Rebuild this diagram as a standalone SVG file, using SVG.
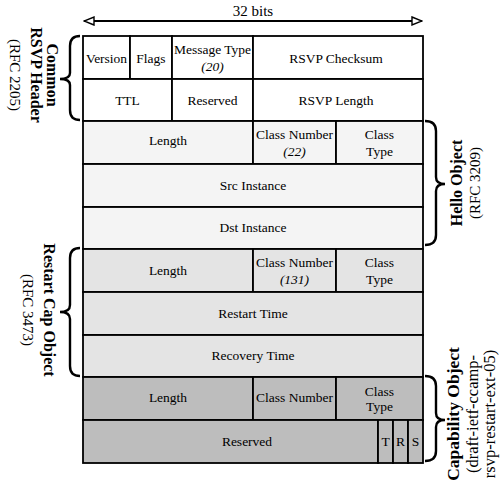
<svg xmlns="http://www.w3.org/2000/svg" width="502" height="485" viewBox="0 0 502 485">
<style>
text{font-family:"Liberation Serif","Times New Roman",serif;font-size:13.5px;fill:#000;text-anchor:middle}
.b{font-weight:bold;font-size:16px}
.r{font-size:15px}
.cb{font-weight:bold;font-size:17.5px}
.cr{font-size:16.5px}
.i{font-style:italic}
.cell{stroke:#000;stroke-width:1.8}
.brace{fill:none;stroke:#000;stroke-width:2.4}
.w{fill:#ffffff}.h{fill:#f4f4f4}.rc{fill:#e4e4e4}.cp{fill:#bdbdbd}
</style>
<defs>
<marker id="arr" viewBox="0 0 12 10" refX="11" refY="5" markerWidth="12" markerHeight="10" markerUnits="userSpaceOnUse" orient="auto-start-reverse">
<path d="M1,1 L11,5 L1,9 Z" fill="#fff" stroke="#000" stroke-width="1.4"/>
</marker>
</defs>

<g id="connectors">
<line x1="84" y1="21" x2="422" y2="21" stroke="#000" stroke-width="2" marker-start="url(#arr)" marker-end="url(#arr)"/>
</g>
<text x="253" y="16" class="r">32 bits</text>

<g id="common-header">
<rect class="cell w" x="83" y="36" width="47" height="43"/>
<rect class="cell w" x="130" y="36" width="42" height="43"/>
<rect class="cell w" x="172" y="36" width="81" height="43"/>
<rect class="cell w" x="253" y="36" width="170" height="43"/>
<rect class="cell w" x="83" y="79" width="89" height="42"/>
<rect class="cell w" x="172" y="79" width="81" height="42"/>
<rect class="cell w" x="253" y="79" width="170" height="42"/>
<text x="106.5" y="63">Version</text>
<text x="151" y="63">Flags</text>
<text x="212.5" y="54">Message Type</text>
<text x="212.5" y="71" class="i">(20)</text>
<text x="336" y="63">RSVP Checksum</text>
<text x="127.5" y="105">TTL</text>
<text x="212.5" y="105">Reserved</text>
<text x="336" y="105">RSVP Length</text>
<path class="brace" d="M80,36 Q70,36 70,46 L70,73 Q70,79 60,79 Q70,79 70,85 L70,110 Q70,120 80,120"/>
<g transform="translate(46.5,75) rotate(90)"><text x="0" y="0" class="b">Common</text></g>
<g transform="translate(31,75) rotate(90)"><text x="0" y="0" class="b">RSVP Header</text></g>
<g transform="translate(10,75) rotate(90)"><text x="0" y="0" class="r">(RFC 2205)</text></g>
</g>

<g id="hello-object">
<rect class="cell h" x="83" y="121" width="170" height="43"/>
<rect class="cell h" x="253" y="121" width="83" height="43"/>
<rect class="cell h" x="336" y="121" width="87" height="43"/>
<rect class="cell h" x="83" y="164" width="340" height="43"/>
<rect class="cell h" x="83" y="207" width="340" height="42"/>
<text x="168" y="145">Length</text>
<text x="294.5" y="139">Class Number</text>
<text x="294.5" y="156" class="i">(22)</text>
<text x="379.5" y="139">Class</text>
<text x="379.5" y="156">Type</text>
<text x="253" y="190">Src Instance</text>
<text x="253" y="232">Dst Instance</text>
<path class="brace" d="M425,121 Q436,121 436,131 L436,177 Q436,184 445,184 Q436,184 436,191 L436,235 Q436,245 425,245"/>
<g transform="translate(461.5,183) rotate(-90)"><text x="0" y="0" class="b">Hello Object</text></g>
<g transform="translate(479.5,183) rotate(-90)"><text x="0" y="0" class="r">(RFC 3209)</text></g>
</g>

<g id="restart-cap-object">
<rect class="cell rc" x="83" y="249" width="170" height="43"/>
<rect class="cell rc" x="253" y="249" width="83" height="43"/>
<rect class="cell rc" x="336" y="249" width="87" height="43"/>
<rect class="cell rc" x="83" y="292" width="340" height="43"/>
<rect class="cell rc" x="83" y="335" width="340" height="42"/>
<text x="168" y="275">Length</text>
<text x="294.5" y="267">Class Number</text>
<text x="294.5" y="284" class="i">(131)</text>
<text x="379.5" y="267">Class</text>
<text x="379.5" y="284">Type</text>
<text x="253" y="318">Restart Time</text>
<text x="253" y="360">Recovery Time</text>
<path class="brace" d="M80,248 Q70,248 70,258 L70,305 Q70,312 60,312 Q70,312 70,319 L70,366 Q70,376 80,376"/>
<g transform="translate(44,310) rotate(90)"><text x="0" y="0" class="b">Restart Cap Object</text></g>
<g transform="translate(23,310) rotate(90)"><text x="0" y="0" class="r">(RFC 3473)</text></g>
</g>

<g id="capability-object">
<rect class="cell cp" x="83" y="377" width="170" height="43"/>
<rect class="cell cp" x="253" y="377" width="83" height="43"/>
<rect class="cell cp" x="336" y="377" width="87" height="43"/>
<rect class="cell cp" x="83" y="420" width="295" height="43"/>
<rect class="cell cp" x="378" y="420" width="15" height="43"/>
<rect class="cell cp" x="393" y="420" width="15" height="43"/>
<rect class="cell cp" x="408" y="420" width="15" height="43"/>
<text x="168" y="402">Length</text>
<text x="294.5" y="402">Class Number</text>
<text x="379.5" y="396">Class</text>
<text x="379.5" y="411">Type</text>
<text x="247" y="446">Reserved</text>
<text x="385.5" y="446">T</text>
<text x="400.5" y="446">R</text>
<text x="415.5" y="446">S</text>
<path class="brace" d="M425,376 Q436,376 436,386 L436,413 Q436,420 445,420 Q436,420 436,427 L436,451 Q436,461 425,461"/>
<g transform="translate(459,414) rotate(-90)"><text x="0" y="0" class="cb">Capability Object</text></g>
<g transform="translate(478,414) rotate(-90)"><text x="0" y="0" class="cr">(draft-ietf-ccamp-</text></g>
<g transform="translate(495,414) rotate(-90)"><text x="0" y="0" class="cr">rsvp-restart-ext-05)</text></g>
</g>
</svg>
